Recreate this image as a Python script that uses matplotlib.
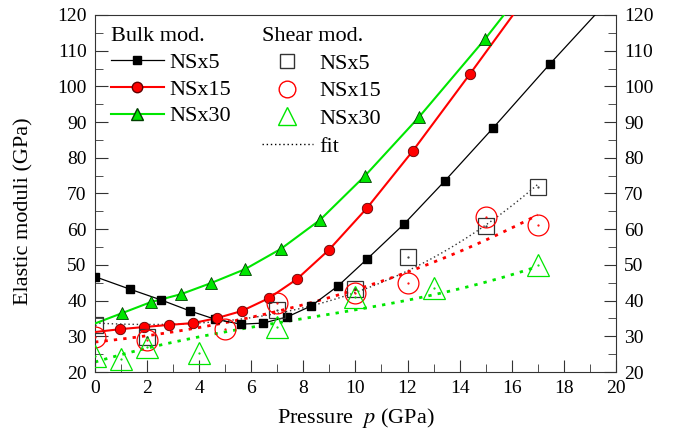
import numpy as np
import matplotlib
matplotlib.use("Agg")
import matplotlib.pyplot as plt
from matplotlib.lines import Line2D
from matplotlib.ticker import MultipleLocator

plt.rcParams["font.family"] = "Liberation Serif"
plt.rcParams["mathtext.fontset"] = "stix"

# bulk modulus data (filled markers)
p_b5 = [0, 1.34, 2.53, 3.65, 4.6, 5.6, 6.45, 7.37, 8.3, 9.33, 10.44, 11.86, 13.43, 15.28, 17.47]
B_b5 = [46.7, 43.2, 40.2, 37.1, 34.8, 33.4, 33.7, 35.4, 38.5, 44.1, 51.6, 61.4, 73.5, 88.3, 106.3]
p_b15 = [0.96, 1.88, 2.84, 3.76, 4.68, 5.64, 6.68, 7.75, 8.98, 10.44, 12.2, 14.4]
B_b15 = [32.0, 32.6, 33.2, 33.7, 35.1, 37.1, 40.7, 46.0, 54.2, 65.9, 81.9, 103.5]
p_b30 = [1.04, 2.15, 3.3, 4.45, 5.76, 7.14, 8.64, 10.36, 12.44, 14.97]
B_b30 = [36.5, 39.6, 41.8, 44.9, 48.8, 54.5, 62.6, 74.9, 91.4, 113.2]

# where the bulk curves start / leave the frame
start_b15, start_b30 = 31.2, 33.6
end_p5, end_p15, end_p30 = 19.2, 16.05, 15.7

# shear modulus data (open markers)
p_s5 = [0, 2, 7, 10, 12, 15, 17]
G_s5 = [33.2, 29.8, 37.4, 43.2, 52.2, 60.9, 71.8]
p_s15 = [0, 2, 5, 7, 10, 12, 15, 17]
G_s15 = [29.8, 29.0, 32.0, 39.3, 42.2, 44.9, 63.5, 61.1]
p_s30 = [0, 1, 2, 4, 7, 10, 13, 17]
G_s30 = [24.5, 23.6, 27.0, 25.3, 32.6, 41.0, 43.5, 50.0]

# points
pf5 = [0, 4, 8.4, 12, 16.1, 17]
Gf5 = [33.7, 33.8, 38.8, 48.0, 67.9, 72.0]
pf15 = [0, 6.7, 7.5, 12, 17]
Gf15 = [28.4, 36.5, 37.9, 48.0, 64.0]
pf30 = [0, 6.7, 7.5, 13, 16.8]
Gf30 = [22.8, 33.2, 34.6, 41.6, 49.1]

black = "black"
red = "#ff0000"
green = "#00e600"

fig = plt.figure(figsize=(6.79, 4.4), dpi=100)
ax = fig.add_axes([0.14, 0.1545, 0.767, 0.8115])

# bulk curves
ax.plot(p_b5 + [end_p5], B_b5 + [120], color=black, lw=0.9, zorder=3)
ax.plot([0] + p_b15 + [end_p15], [start_b15] + B_b15 + [120], color=red, lw=1.5, zorder=3)
ax.plot([0] + p_b30 + [end_p30], [start_b30] + B_b30 + [120], color=green, lw=1.5, zorder=3)
ax.plot(p_b5, B_b5, "s", color=black, ms=6, zorder=4)
ax.plot(p_b15, B_b15, "o", mfc=red, mec="#600000", mew=0.6, ms=7.5, zorder=4)
ax.plot(p_b30, B_b30, "^", mfc=green, mec="#004000", mew=0.6, ms=8, zorder=4)

# shear fits
for px, gy, c, ls, lw in [(pf5, Gf5, "#333333", (0, (1, 2)), 1.0),
                          (pf15, Gf15, red, (0, (1.2, 2.2)), 2.0),
                          (pf30, Gf30, green, (0, (1.2, 2.2)), 2.0)]:
    coef = np.polyfit(px, gy, 3)
    xx = np.linspace(0, px[-1], 100)
    ax.plot(xx, np.polyval(coef, xx), color=c, ls=ls, lw=lw, zorder=2)

ax.plot(p_s5, G_s5, "s", mfc="none", mec="#333333", mew=0.9, ms=12, zorder=5)
ax.plot(p_s15, G_s15, "o", mfc="none", mec=red, mew=0.9, ms=15, zorder=5)
ax.plot(p_s30, G_s30, "^", mfc="none", mec=green, mew=0.9, ms=16, zorder=5)
ax.plot(p_s5, G_s5, ".", color="#333333", ms=1.2, zorder=5)
ax.plot(p_s15, G_s15, ".", color=red, ms=1.2, zorder=5)
ax.plot(p_s30, G_s30, ".", color=green, ms=1.2, zorder=5)

ax.set_xlim(0, 20)
ax.set_ylim(20, 120)
ax.xaxis.set_major_locator(MultipleLocator(2))
ax.xaxis.set_minor_locator(MultipleLocator(1))
ax.yaxis.set_major_locator(MultipleLocator(10))
ax.yaxis.set_minor_locator(MultipleLocator(5))
ax.tick_params(which="both", direction="in", top=False, right=True,
               labelright=True, labelsize=14, color="#333333")
ax.tick_params(which="major", length=9, pad=6)
ax.tick_params(which="minor", length=6)
for s in ax.spines.values():
    s.set_color("#333333")

ax.set_xlabel("Pressure  $p$ (GPa)", fontsize=16, labelpad=6)
ax.set_ylabel("Elastic moduli (GPa)", fontsize=16)
ax.yaxis.set_label_coords(-0.118, 0.45)

h_bulk = [Line2D([], [], color=black, lw=0.9, marker="s", ms=6),
          Line2D([], [], color=red, lw=1.5, marker="o", mfc=red, mec="#600000", ms=7.5),
          Line2D([], [], color=green, lw=1.5, marker="^", mfc=green, mec="#004000", ms=8)]
leg1 = ax.legend(h_bulk, ["NSx5", "NSx15", "NSx30"], title="Bulk mod.",
                 loc="upper left", bbox_to_anchor=(0.0, 1.01), frameon=False,
                 fontsize=16, title_fontsize=16, handlelength=2.4,
                 handletextpad=0.25, labelspacing=0.28, borderaxespad=0.3)
leg1._legend_box.align = "left"
ax.add_artist(leg1)

h_shear = [Line2D([], [], ls="none", marker="s", mfc="none", mec="#333333", ms=10),
           Line2D([], [], ls="none", marker="o", mfc="none", mec=red, ms=12),
           Line2D([], [], ls="none", marker="^", mfc="none", mec=green, ms=13),
           Line2D([], [], color=black, ls=(0, (1, 2)), lw=1.0)]
leg2 = ax.legend(h_shear, ["NSx5", "NSx15", "NSx30", "fit"], title="Shear mod.",
                 loc="upper left", bbox_to_anchor=(0.29, 1.01), frameon=False,
                 fontsize=16, title_fontsize=16, handlelength=2.3,
                 handletextpad=0.3, labelspacing=0.32, borderaxespad=0.3)
leg2._legend_box.align = "left"

fig.savefig("out.png", dpi=100)
